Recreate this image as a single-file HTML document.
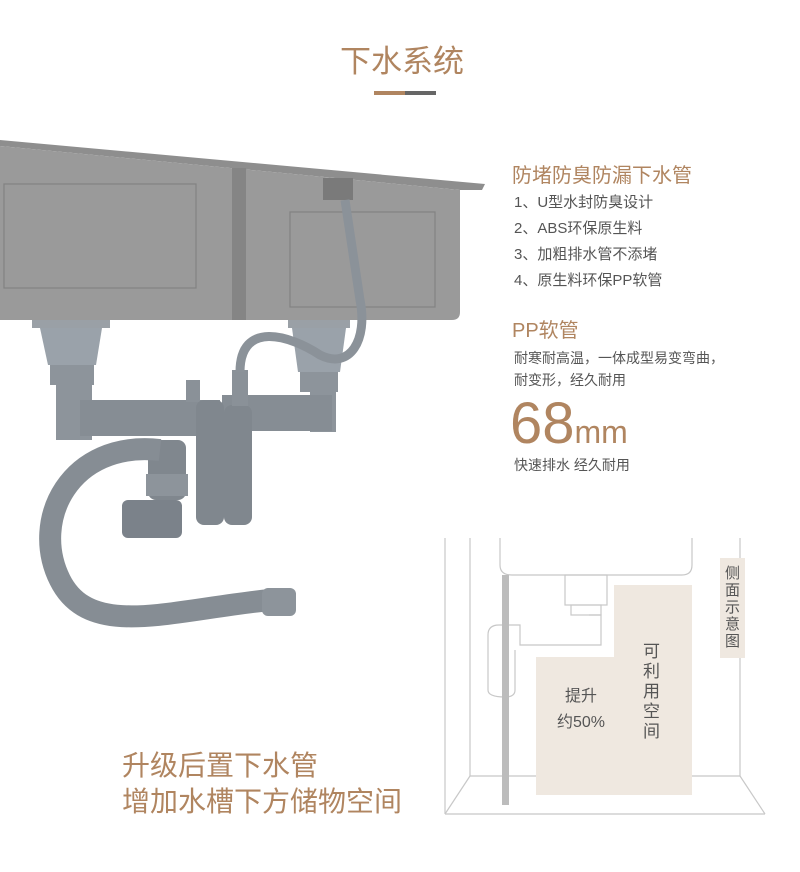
<!DOCTYPE html>
<html><head><meta charset="utf-8"><style>
body{margin:0;background:#fff;}
#c{position:relative;width:800px;height:872px;overflow:hidden;background:#fff;font-family:"Liberation Sans","Noto Sans CJK SC",sans-serif;}
.t{position:absolute;white-space:nowrap;}
.br{color:#b08560;}
.g{color:#555;}
</style></head><body><div id="c">
<svg width="800" height="872" style="position:absolute;left:0;top:0">
 <polygon points="0,140 485,184 482,190 460,190 0,146" fill="#8e8e8e"/>
 <path d="M0,146 L460,190 L460,312 Q460,320 452,320 L0,320 Z" fill="#9a9a9a"/>
 <rect x="232" y="168" width="14" height="152" fill="#858585"/>
 <rect x="4" y="184" width="192" height="104" fill="none" stroke="#828282" stroke-width="1.2"/>
 <rect x="290" y="212" width="145" height="95" fill="none" stroke="#828282" stroke-width="1.2"/>
 <rect x="323" y="178" width="30" height="22" fill="#7a7a7a"/>
 <rect x="32" y="320" width="78" height="8" fill="#9aa0a6"/>
 <path d="M40,328 L102,328 L96,365 L48,365 Z" fill="#9aa2aa"/>
 <rect x="50" y="365" width="44" height="20" fill="#8d949b"/>
 <rect x="56" y="385" width="36" height="55" fill="#8d949b"/>
 <rect x="80" y="400" width="140" height="36" fill="#868d94"/>
 <rect x="186" y="380" width="14" height="22" fill="#8a9198"/>
 <rect x="288" y="320" width="62" height="8" fill="#9aa0a6"/>
 <path d="M292,328 L346,328 L340,372 L298,372 Z" fill="#9aa2aa"/>
 <rect x="300" y="372" width="38" height="20" fill="#8d949b"/>
 <rect x="310" y="392" width="26" height="40" fill="#8d949b"/>
 <rect x="222" y="395" width="110" height="36" fill="#868d94"/>
 <rect x="196" y="400" width="28" height="125" rx="8" fill="#80878e"/>
 <rect x="224" y="405" width="28" height="120" rx="8" fill="#80878e"/>
 <rect x="232" y="370" width="16" height="36" fill="#8a9198"/>
 <path d="M240,372 C240,320 290,335 320,355 C350,370 368,340 360,300 L345,200" fill="none" stroke="#8b9299" stroke-width="9"/>
 <rect x="148" y="440" width="38" height="60" rx="8" fill="#80878e"/>
 <rect x="146" y="474" width="42" height="22" fill="#8d949b"/>
 <rect x="122" y="500" width="60" height="38" rx="6" fill="#7b828a"/>
 <path d="M160,450 C70,440 30,520 60,580 C90,640 170,610 270,600" fill="none" stroke="#868d94" stroke-width="22"/>
 <rect x="262" y="588" width="34" height="28" rx="6" fill="#8d949b"/>
 <g fill="none" stroke="#c8c8c8" stroke-width="1.2">
  <polyline points="445,538 445,814"/>
  <polyline points="470,538 470,776 740,776 740,538"/>
  <polyline points="445,814 470,776"/>
  <polyline points="765,814 740,776"/>
  <line x1="445" y1="814" x2="765" y2="814"/>
  <path d="M500,538 L500,565 Q500,575 512,575 L682,575 Q692,575 692,565 L692,538"/>
  <rect x="565" y="575" width="42" height="30"/>
  <rect x="571" y="605" width="30" height="10"/>
  <path d="M589,615 L601,615 L601,645 L520,645 L520,625 L499,625 Q488,625 488,635 L488,690 Q488,697 505,697 Q515,697 515,690 L515,650"/>
 </g>
 <rect x="614" y="585" width="78" height="210" fill="#efe8e0"/>
 <rect x="536" y="657" width="78" height="138" fill="#efe8e0"/>
 <rect x="720" y="558" width="25" height="100" fill="#efe8e0"/>
 <rect x="502" y="575" width="7" height="230" fill="#bcbcbc"/>
</svg>
<div class="t br" style="left:340px;top:36px;font-size:31px;">下水系统</div>
<div style="position:absolute;left:374px;top:91px;width:31px;height:4px;background:#b08560"></div>
<div style="position:absolute;left:405px;top:91px;width:31px;height:4px;background:#666"></div>
<div class="t br" style="left:512px;top:159px;font-size:20px;">防堵防臭防漏下水管</div>
<div class="t g" style="left:514px;top:190px;font-size:15px;line-height:26px;">1、U型水封防臭设计<br>2、ABS环保原生料<br>3、加粗排水管不添堵<br>4、原生料环保PP软管</div>
<div class="t br" style="left:512px;top:314px;font-size:20px;">PP软管</div>
<div class="t g" style="left:514px;top:347px;font-size:14px;line-height:22px;">耐寒耐高温，一体成型易变弯曲，<br>耐变形，经久耐用</div>
<div class="t br" style="left:510px;top:392px;font-size:58px;line-height:64px;">68<span style="font-size:32px">mm</span></div>
<div class="t g" style="left:514px;top:455px;font-size:14px;">快速排水 经久耐用</div>
<div class="t br" style="left:122px;top:748px;font-size:28px;line-height:36px;">升级后置下水管<br>增加水槽下方储物空间</div>
<div class="t g" style="left:557px;top:684px;font-size:16px;line-height:26px;text-align:center;">提升<br>约50%</div>
<div class="t g" style="left:643px;top:642px;font-size:17px;line-height:20px;width:20px;white-space:normal;">可利用空间</div>
<div class="t g" style="left:725px;top:565px;font-size:15px;line-height:17px;width:16px;white-space:normal;">侧面示意图</div>
</div></body></html>
